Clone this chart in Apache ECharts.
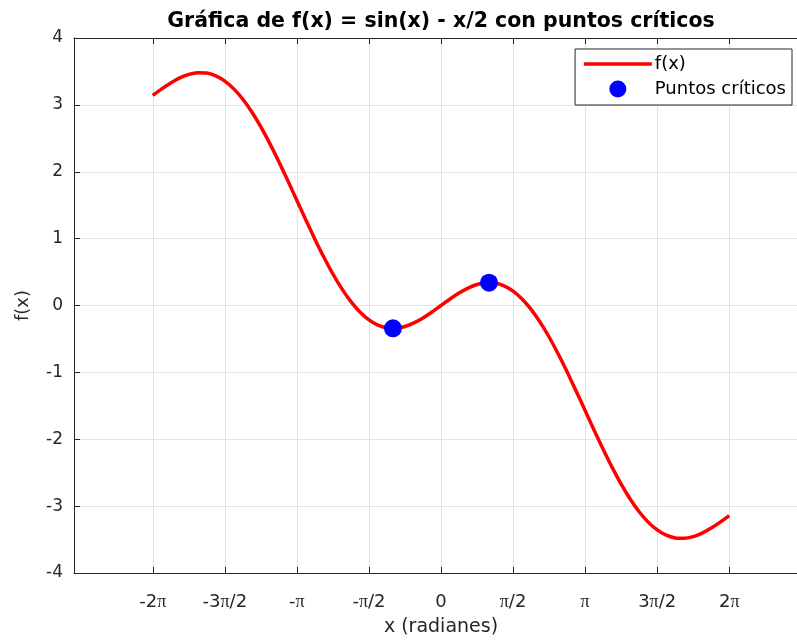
<!DOCTYPE html>
<html>
<head>
<meta charset="utf-8">
<script src="https://cdn.jsdelivr.net/npm/echarts@6/dist/echarts.min.js"></script>
<style>html,body{margin:0;padding:0;background:#fff}#c{width:797px;height:640px}</style>
</head>
<body>
<div id="c"></div>
<script>
// x sample positions in multiples of pi/16, from -2pi to 2pi
const xSteps = [-32,-31,-30,-29,-28,-27,-26,-25,-24,-23,-22,-21,-20,-19,-18,-17,-16,-15,-14,-13,-12,-11,-10,-9,-8,-7,-6,-5,-4,-3,-2,-1,0,1,2,3,4,5,6,7,8,9,10,11,12,13,14,15,16,17,18,19,20,21,22,23,24,25,26,27,28,29,30,31,32];
// f(x) values
const fValues = [3.142,3.239,3.328,3.403,3.456,3.482,3.476,3.435,3.356,3.239,3.084,2.893,2.671,2.421,2.150,1.864,1.571,1.278,0.992,0.721,0.471,0.248,0.058,-0.097,-0.215,-0.294,-0.335,-0.341,-0.314,-0.261,-0.186,-0.097,0,0.097,0.186,0.261,0.314,0.341,0.335,0.294,0.215,0.097,-0.058,-0.248,-0.471,-0.721,-0.992,-1.278,-1.571,-1.864,-2.150,-2.421,-2.671,-2.893,-3.084,-3.239,-3.356,-3.435,-3.476,-3.482,-3.456,-3.403,-3.328,-3.239,-3.142];
// critical points
const critX = [-1.047, 1.047];
const critY = [-0.342, 0.342];
// x tick positions (multiples of pi/2) and labels
const tickSteps = [-4,-3,-2,-1,0,1,2,3,4];
const tickLabels = ['-2π','-3π/2','-π','-π/2','0','π/2','π','3π/2','2π'];

const PI = Math.PI;
const lineData = xSteps.map((k,i)=>[k*PI/16, fValues[i]]);
const critData = critX.map((x,i)=>[x, critY[i]]);
const tickVals = tickSteps.map(k=>k*PI/2);

function fmtTick(v){
  let best=0, bd=1e9;
  tickVals.forEach((t,i)=>{const d=Math.abs(t-v); if(d<bd){bd=d;best=i;}});
  return tickLabels[best].split('π').join('{p|π}');
}

const chart = echarts.init(document.getElementById('c'));
const axisCol = '#262626';
const font = 'DejaVu Sans, Verdana, sans-serif';
chart.setOption({
  animation:false,
  backgroundColor:'#fff',
  title:{
    text:'Gráfica de f(x) = sin(x) - x/2 con puntos críticos',
    left:436, top:6, textAlign:'center',
    textStyle:{fontFamily:font, fontWeight:'bold', fontSize:20.5, color:'#000'}
  },
  legend:{
    right:5, top:49,
    orient:'vertical',
    backgroundColor:'#fff',
    borderColor:axisCol, borderWidth:1, borderRadius:0,
    padding:[6,6,7,7],
    itemGap:7,
    itemWidth:68, itemHeight:17,
    textStyle:{fontFamily:font, fontSize:18, color:'#000', padding:[0,0,0,-2]},
    data:[
      {name:'f(x)', itemStyle:{opacity:0}, lineStyle:{width:3.5, color:'#ff0000'}},
      {name:'Puntos críticos', icon:'circle'}
    ]
  },
  grid:{left:74, top:38, width:734, height:535, containLabel:false, outerBoundsMode:'none'},
  xAxis:[{
    type:'value', min:-8, max:8,
    axisLine:{show:true, onZero:false, lineStyle:{color:axisCol, width:1}},
    axisTick:{show:true, inside:true, length:6, customValues:tickVals, lineStyle:{color:axisCol}},
    axisLabel:{show:true, customValues:tickVals, formatter:fmtTick, margin:20,
      fontFamily:font, fontSize:18, color:'#262626',
      rich:{p:{fontFamily:'Liberation Serif, serif', fontSize:18, color:'#262626'}}},
    splitLine:{show:true, lineStyle:{color:'#e3e3e3', width:1}},
    name:'x (radianes)', nameLocation:'middle', nameGap:45,
    nameTextStyle:{fontFamily:font, fontSize:19, color:'#262626'}
  },{
    type:'value', min:-8, max:8, position:'top',
    axisLine:{show:true, onZero:false, lineStyle:{color:axisCol, width:1}},
    axisTick:{show:true, inside:true, length:6, customValues:tickVals, lineStyle:{color:axisCol}},
    axisLabel:{show:false, customValues:tickVals},
    splitLine:{show:false}
  }],
  yAxis:{
    type:'value', min:-4, max:4, interval:1,
    axisLine:{show:true, onZero:false, lineStyle:{color:axisCol, width:1}},
    axisTick:{show:true, inside:true, length:6, lineStyle:{color:axisCol}},
    axisLabel:{fontFamily:font, fontSize:17, color:'#262626', margin:11},
    splitLine:{show:true, lineStyle:{color:'#e3e3e3', width:1}},
    name:'f(x)', nameLocation:'middle', nameGap:42, nameRotate:90,
    nameTextStyle:{fontFamily:font, fontSize:18, color:'#262626'}
  },
  series:[{
    name:'f(x)', type:'line', data:lineData, smooth:0.2, symbol:'none',
    lineStyle:{color:'#ff0000', width:3.5}, itemStyle:{color:'#ff0000'}, z:3
  },{
    name:'Puntos críticos', type:'scatter', data:critData, symbolSize:18,
    itemStyle:{color:'#0000ff', opacity:1}, z:4
  }]
});
</script>
</body>
</html>
